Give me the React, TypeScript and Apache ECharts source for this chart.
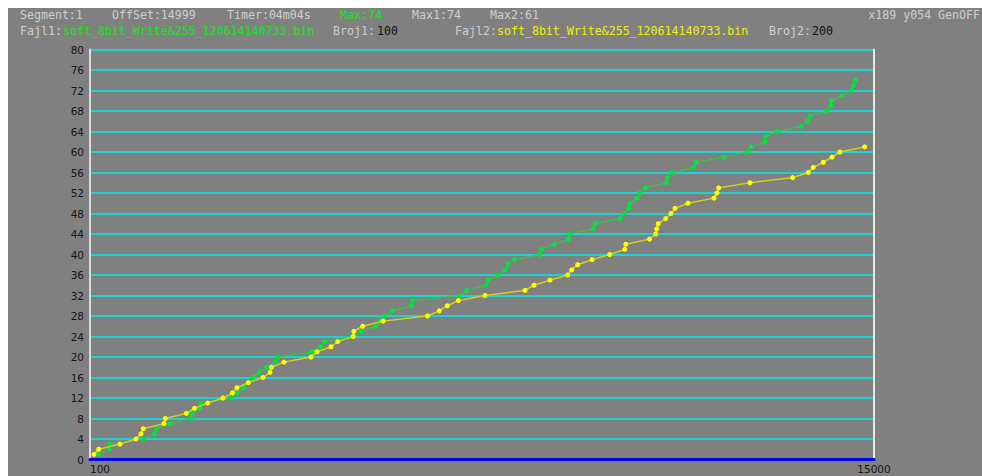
import { useEffect, useRef } from "react";
import * as echarts from "echarts";

// Write offsets (x) and running counts (y) for the two captured files
const offsets1 = [
  265, 467, 480, 1120, 1322, 1368, 1620, 2019, 2032, 2190,
  2210, 2780, 2894, 3026, 3108, 3192, 3317, 3458, 3616, 3672,
  4324, 4489, 4556, 5073, 5250, 5535, 5624, 5706, 5845, 6214,
  6230, 7132, 7259, 7626, 7660, 7860, 7993, 8038, 8171, 8652,
  8686, 8924, 9194, 9204, 9665, 9698, 10173, 10240, 10344, 10363,
  10496, 10553, 10657, 11060, 11071, 11155, 11565, 11617, 12143, 12592,
  12662, 12934, 12947, 13150, 13618, 13732, 13789, 14101, 14183, 14190,
  14386, 14568, 14606, 14644,
];
const counts1 = [
  1, 2, 3, 4, 5, 6, 7, 8, 9, 10,
  11, 12, 13, 14, 15, 16, 17, 18, 19, 20,
  21, 22, 23, 24, 25, 26, 27, 28, 29, 30,
  31, 32, 33, 34, 35, 36, 37, 38, 39, 40,
  41, 42, 43, 44, 45, 46, 47, 48, 49, 50,
  51, 52, 53, 54, 55, 56, 57, 58, 59, 60,
  61, 62, 63, 64, 65, 66, 67, 68, 69, 70,
  71, 72, 73, 74,
];
const offsets2 = [
  176, 265, 670, 974, 1069, 1113, 1506, 1531, 1930, 2086,
  2337, 2628, 2808, 2894, 3109, 3388, 3521, 3549, 3787, 4300,
  4414, 4680, 4808, 5104, 5112, 5283, 5669, 6514, 6738, 6891,
  7100, 7607, 8367, 8538, 8842, 9179, 9255, 9369, 9641, 9977,
  10262, 10283, 10733, 10851, 10870, 10900, 11041, 11142, 11218, 11465,
  11959, 12016, 12048, 12643, 13455, 13751, 13846, 14036, 14202, 14354,
  14823,
];
const counts2 = [
  1, 2, 3, 4, 5, 6, 7, 8, 9, 10,
  11, 12, 13, 14, 15, 16, 17, 18, 19, 20,
  21, 22, 23, 24, 25, 26, 27, 28, 29, 30,
  31, 32, 33, 34, 35, 36, 37, 38, 39, 40,
  41, 42, 43, 44, 45, 46, 47, 48, 49, 50,
  51, 52, 53, 54, 55, 56, 57, 58, 59, 60,
  61,
];

const xRange = [100, 15000];
const yRange = [0, 80];
const yStep = 4;

const statusTexts = [
  { text: "Segment:1", x: 12, color: "#cfcfcf" },
  { text: "OffSet:14999", x: 104, color: "#cfcfcf" },
  { text: "Timer:04m04s", x: 219, color: "#cfcfcf" },
  { text: "Max:74", x: 332, color: "#22e022" },
  { text: "Max1:74", x: 404, color: "#cfcfcf" },
  { text: "Max2:61", x: 482, color: "#cfcfcf" },
];
const fileTexts = [
  { text: "Fajl1:", x: 12, color: "#cfcfcf" },
  { text: "soft_8bit_Write&255_120614140733.bin", x: 55, color: "#22e022" },
  { text: "Broj1:", x: 325, color: "#cfcfcf" },
  { text: "100", x: 369, color: "#111111" },
  { text: "Fajl2:", x: 447, color: "#cfcfcf" },
  { text: "soft_8bit_Write&255_120614140733.bin", x: 489, color: "#f0f000" },
  { text: "Broj2:", x: 761, color: "#cfcfcf" },
  { text: "200", x: 804, color: "#111111" },
];
const cursorText = "x189 y054 GenOFF";

const MONO = "11.6px 'DejaVu Sans Mono', monospace";

export default function App() {
  const ref = useRef<HTMLDivElement>(null);

  useEffect(() => {
    if (!ref.current) return;
    const chart = echarts.init(ref.current, undefined, { renderer: "svg" });

    const pairs = (xs: number[], ys: number[]) => xs.map((x, i) => [x, ys[i]]);

    const headerRow = (items: { text: string; x: number; color: string }[], y: number) =>
      items.map((t) => ({
        type: "text",
        x: t.x,
        y,
        silent: true,
        style: {
          text: t.text,
          fill: t.color,
          font: MONO,
          textVerticalAlign: "middle",
          verticalAlign: "middle",
        },
      }));

    chart.setOption({
      animation: false,
      backgroundColor: "#808080",
      grid: {
        left: 82,
        right: 108,
        top: 41.5,
        bottom: 16.5,
        outerBoundsMode: "none",
      },
      xAxis: {
        type: "value",
        min: xRange[0],
        max: xRange[1],
        interval: xRange[1] - xRange[0],
        axisLine: { show: true, lineStyle: { color: "#0000ee", width: 3 } },
        axisTick: { show: false },
        splitLine: { show: false },
        axisLabel: {
          color: "#151515",
          fontFamily: "DejaVu Sans",
          fontSize: 10.5,
          margin: 4,
          alignMinLabel: "left",
          alignMaxLabel: "center",
          formatter: (v: number) => String(v),
        },
      },
      yAxis: [
        {
          type: "value",
          min: yRange[0],
          max: yRange[1],
          interval: yStep,
          axisLine: { show: true, lineStyle: { color: "#dcdcdc", width: 2 } },
          axisTick: { show: false },
          splitLine: { show: true, lineStyle: { color: "#1fd2d2", width: 2 } },
          axisLabel: {
            color: "#151515",
            fontFamily: "DejaVu Sans",
            fontSize: 10.5,
            margin: 6,
          },
        },
        {
          type: "value",
          position: "right",
          min: yRange[0],
          max: yRange[1],
          interval: yStep,
          axisLine: { show: true, lineStyle: { color: "#e8e8e8", width: 2 } },
          axisTick: { show: false },
          axisLabel: { show: false },
          splitLine: { show: false },
        },
      ],
      series: [
        {
          type: "line",
          name: "Fajl1",
          yAxisIndex: 0,
          data: pairs(offsets1, counts1),
          symbol: "circle",
          symbolSize: 5,
          lineStyle: { color: "#2ccc44", width: 1.2 },
          itemStyle: { color: "#00e640" },
          z: 3,
        },
        {
          type: "line",
          name: "Fajl2",
          yAxisIndex: 0,
          data: pairs(offsets2, counts2),
          symbol: "circle",
          symbolSize: 5,
          lineStyle: { color: "#d6cf1c", width: 1.5 },
          itemStyle: { color: "#ffff00" },
          z: 4,
        },
      ],
      graphic: [
        ...headerRow(statusTexts, 7),
        ...headerRow(fileTexts, 23),
        {
          type: "text",
          right: 2,
          top: 1,
          silent: true,
          style: { text: cursorText, fill: "#cfcfcf", font: MONO },
        },
      ],
    });

    return () => chart.dispose();
  }, []);

  return (
    <div
      ref={ref}
      style={{ position: "fixed", left: 8, top: 8, width: 974, height: 468 }}
    />
  );
}
